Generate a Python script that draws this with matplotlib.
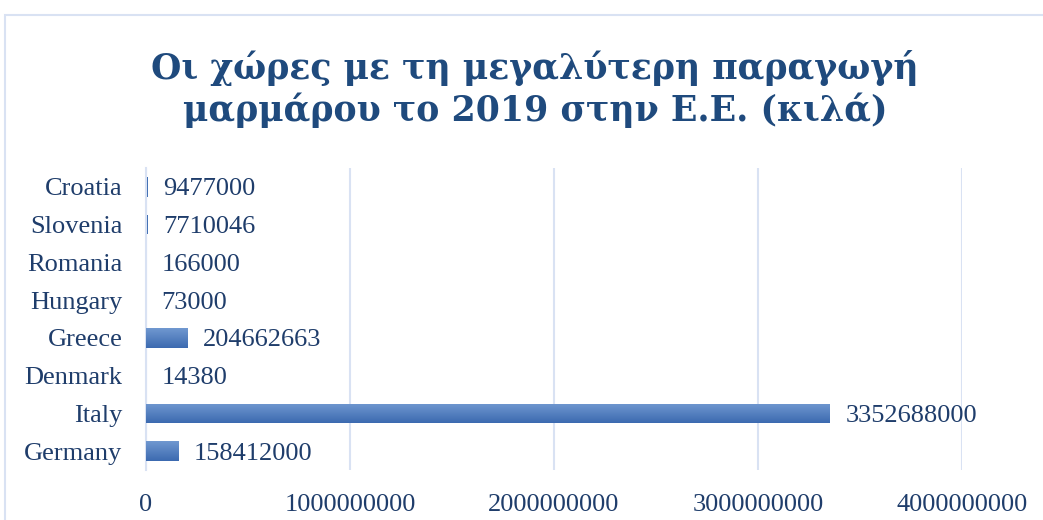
import numpy as np
import matplotlib.pyplot as plt
from matplotlib.colors import LinearSegmentedColormap
from matplotlib.patches import Rectangle

# data (kg of marble, 2019)
countries = ["Germany", "Italy", "Denmark", "Greece", "Hungary", "Romania", "Slovenia", "Croatia"]
production = [158412000, 3352688000, 14380, 204662663, 73000, 166000, 7710046, 9477000]
x_ticks = [0, 1000000000, 2000000000, 3000000000, 4000000000]
x_tick_labels = ["0", "1000000000", "2000000000", "3000000000", "4000000000"]
title_lines = ["Οι χώρες με τη μεγαλύτερη παραγωγή",
               "μαρμάρου το 2019 στην Ε.Ε. (κιλά)"]

text_col = "#1F3D6B"
grid_col = "#D9E2F3"
font = "Liberation Serif"

fig = plt.figure(figsize=(10.43, 5.2), dpi=100)
ax = fig.add_axes([146 / 1043, 1 - 470 / 520, (962 - 146) / 1043, (470 - 168) / 520])

# chart area border (only top and left visible in the crop)
fig.patches.append(Rectangle((5 / 1043, -0.1), 1.2, 1 - 15 / 520 + 0.1, transform=fig.transFigure,
                             fill=False, edgecolor=grid_col, linewidth=1.5))

y = np.arange(len(countries))
bars = ax.barh(y, production, height=0.52, color="#3F6DB3", linewidth=0, zorder=2)

# gradient fill: lighter at top, darker at bottom (skip bars thinner than a pixel)
cmap = LinearSegmentedColormap.from_list("g", ["#3C6AB0", "#7098D0"])
grad = np.linspace(0, 1, 64).reshape(-1, 1)
for b in bars:
    x0, y0, w, h = b.get_x(), b.get_y(), b.get_width(), b.get_height()
    if w < 1e7:
        continue
    im = ax.imshow(grad, extent=[x0, x0 + w, y0, y0 + h], origin="lower",
                   aspect="auto", cmap=cmap, zorder=3)
    im.set_clip_path(b)

labels = ax.bar_label(bars, labels=[str(v) for v in production], padding=11,
                      fontsize=19, color=text_col, family=font)
for t in labels:
    t.set_va("center_baseline")

ax.set_xlim(0, 4000000000)
ax.set_ylim(-0.5, len(countries) - 0.5)
ax.set_xticks(x_ticks)
ax.set_xticklabels(x_tick_labels, fontsize=19, color=text_col, family=font)
ax.set_yticks(y)
ax.set_yticklabels(countries, fontsize=19, color=text_col, family=font, va="center_baseline")
ax.tick_params(axis="both", length=0)
ax.tick_params(axis="x", pad=17)
ax.tick_params(axis="y", pad=17)

ax.grid(axis="x", color=grid_col, linewidth=1.5, zorder=0)
ax.set_axisbelow(True)
for s in ["top", "right", "bottom"]:
    ax.spines[s].set_visible(False)
ax.spines["left"].set_color(grid_col)
ax.spines["left"].set_linewidth(1.5)

fig.text(535 / 1043, 1 - 68 / 520, title_lines[0], ha="center", va="center",
         fontsize=25, fontweight="bold", color="#1F4A7D", family="DejaVu Serif")
fig.text(535 / 1043, 1 - 110 / 520, title_lines[1], ha="center", va="center",
         fontsize=25, fontweight="bold", color="#1F4A7D", family="DejaVu Serif")

fig.savefig("out.png", dpi=100)
